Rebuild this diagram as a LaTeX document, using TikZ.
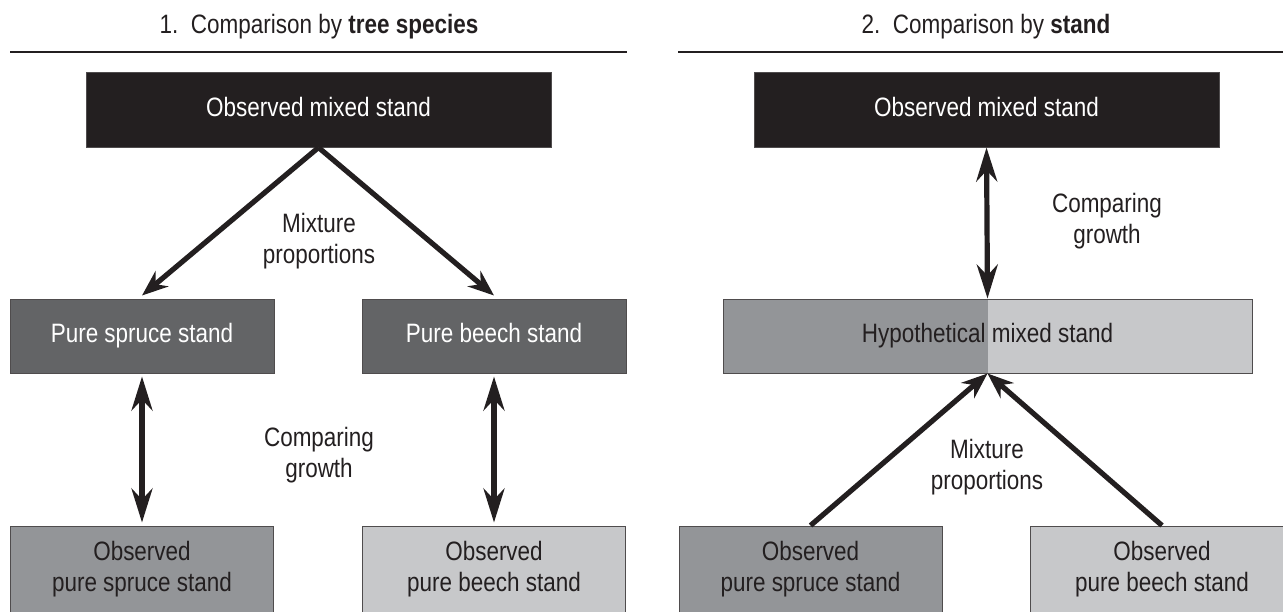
\documentclass[tikz,border=0pt]{standalone}
\usepackage{fontspec}
\setmainfont[FakeStretch=0.845]{Liberation Sans}
\usetikzlibrary{arrows.meta,positioning}
\definecolor{StandBlack}{HTML}{231F20}
\definecolor{PureGray}{HTML}{636466}
\definecolor{SpruceGray}{HTML}{939598}
\definecolor{BeechGray}{HTML}{C7C8CA}

\begin{document}
\begin{tikzpicture}[x=0.5pt,y=-0.5pt,
  every node/.style={font=\fontsize{13.3}{15.5}\selectfont,text=StandBlack,align=center,inner sep=0pt},
  panel/.style={draw=StandBlack!80,line width=0.5pt,text depth=0.28em},
  topbox/.style={panel,fill=StandBlack,text=white,minimum width=232.5pt,minimum height=37.5pt},
  purebox/.style={panel,fill=PureGray,text=white,minimum width=132pt,minimum height=37pt},
  sprucebox/.style={panel,fill=SpruceGray,minimum width=131.5pt,minimum height=43pt},
  beechbox/.style={panel,fill=BeechGray,minimum width=131.5pt,minimum height=43pt},
  hypbox/.style={panel,fill=SpruceGray,minimum width=264.5pt,minimum height=37pt,
    path picture={\fill[BeechGray] (path picture bounding box.north) rectangle (path picture bounding box.south east);}},
  rule/.style={line width=0.9pt,draw=StandBlack},
  flow/.style={-{Stealth[length=13pt,width=10pt]},line width=2.6pt,draw=StandBlack},
  twoway/.style={{Stealth[length=17pt,width=10.5pt]}-{Stealth[length=17pt,width=10.5pt]},line width=2.6pt,draw=StandBlack}]
\useasboundingbox (0,0) rectangle (1283,611);

% 1. by tree species
\node (title1) at (319,27) {1.\ \ Comparison by \textbf{tree species}};
\draw[rule] (10,52) -- (627,52);
\node[topbox] (mixedL) at (318.5,109.5) {Observed mixed stand};
\node[purebox] (spruceL) at (142,336) {Pure spruce stand};
\node[purebox] (beechL) at (494,336) {Pure beech stand};
\node[sprucebox] (obsspruceL) at (142,569) {Observed\\pure spruce stand};
\node[beechbox] (obsbeechL) at (494,569) {Observed\\pure beech stand};
\node (mixL) at (319,241.5) {Mixture\\proportions};
\node (compL) at (319,455) {Comparing\\growth};
\draw[flow] (mixedL.south) -- ([yshift=1.5pt]spruceL.north);
\draw[flow] (mixedL.south) -- ([yshift=1.5pt]beechL.north);
\draw[twoway] ([yshift=-1.5pt]spruceL.south) -- ([yshift=1.5pt]obsspruceL.north);
\draw[twoway] ([yshift=-1.5pt]beechL.south) -- ([yshift=1.5pt]obsbeechL.north);

% 2. by stand
\node (title2) at (986,27) {2.\ \ Comparison by \textbf{stand}};
\draw[rule] (678,52) -- (1283,52);
\node[topbox] (mixedR) at (986.5,109.5) {Observed mixed stand};
\node[hypbox] (hyp) at (987.5,336) {Hypothetical mixed stand};
\node[sprucebox] (obsspruceR) at (810.5,569) {Observed\\pure spruce stand};
\node[beechbox] (obsbeechR) at (1162,569) {Observed\\pure beech stand};
\node (compR) at (1107,221) {Comparing\\growth};
\node (mixR) at (987,467.5) {Mixture\\proportions};
\draw[twoway] (mixedR.south) -- (hyp.north);
\draw[flow] (obsspruceR.north) -- (hyp.south);
\draw[flow] (obsbeechR.north) -- (hyp.south);
\end{tikzpicture}
\end{document}
